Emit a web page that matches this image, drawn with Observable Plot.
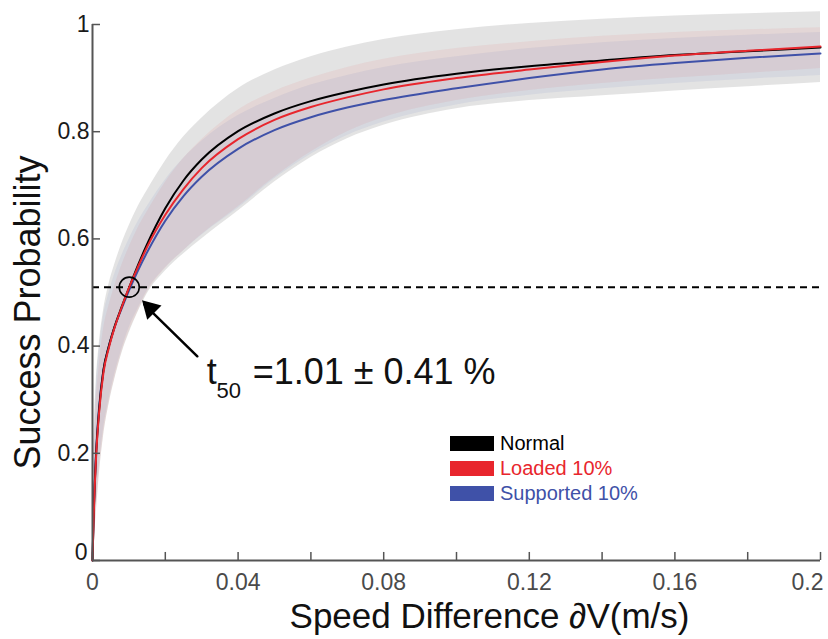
<!DOCTYPE html>
<html>
<head>
<meta charset="utf-8">
<script src="https://cdn.jsdelivr.net/npm/d3@7"></script>
<script src="https://cdn.jsdelivr.net/npm/@observablehq/plot@0.6"></script>
<style>
  html, body { margin: 0; padding: 0; background: #fff; }
  #wrap { position: relative; width: 828px; height: 639px; font-family: "Liberation Sans", Arial, sans-serif; }
  #legend { position: absolute; left: 450px; top: 431px; font-size: 20px; line-height: 25px; }
  #legend .row { display: flex; align-items: center; height: 25px; }
  #legend .sw { width: 44px; height: 15px; margin-right: 6px; }
</style>
</head>
<body>
<div id="wrap">
  <div id="chart"></div>
  <div id="legend"></div>
</div>
<script>
// Speed difference grid (m/s)
const xs = [0, 0.0003, 0.0006, 0.001, 0.0018, 0.003, 0.0045, 0.006, 0.008, 0.0101, 0.0125, 0.015, 0.02, 0.025, 0.03, 0.04, 0.05, 0.06, 0.07, 0.08, 0.1, 0.12, 0.14, 0.16, 0.18, 0.2];

// Mean success probability curves
const normal    = [0, 0.08, 0.14, 0.20, 0.28, 0.355, 0.40, 0.435, 0.473, 0.51, 0.551, 0.59, 0.657, 0.709, 0.748, 0.801, 0.834, 0.857, 0.874, 0.888, 0.908, 0.922, 0.933, 0.943, 0.950, 0.957];
const loaded    = [0, 0.075, 0.135, 0.195, 0.275, 0.35, 0.397, 0.433, 0.472, 0.51, 0.548, 0.585, 0.645, 0.693, 0.732, 0.786, 0.822, 0.846, 0.864, 0.879, 0.90, 0.916, 0.93, 0.942, 0.951, 0.959];
const supported = [0, 0.085, 0.145, 0.205, 0.285, 0.355, 0.40, 0.434, 0.47, 0.505, 0.541, 0.575, 0.634, 0.68, 0.716, 0.768, 0.803, 0.827, 0.845, 0.859, 0.881, 0.90, 0.916, 0.928, 0.938, 0.946];

// Confidence bands
const normalHi    = [0, 0.20, 0.27, 0.33, 0.40, 0.465, 0.515, 0.55, 0.59, 0.625, 0.66, 0.69, 0.745, 0.79, 0.825, 0.88, 0.915, 0.94, 0.958, 0.972, 0.99, 1.002, 1.01, 1.016, 1.02, 1.024];
const normalLo    = [0, 0.025, 0.05, 0.085, 0.155, 0.23, 0.29, 0.335, 0.385, 0.425, 0.463, 0.497, 0.54, 0.572, 0.60, 0.652, 0.706, 0.752, 0.787, 0.812, 0.843, 0.858, 0.867, 0.876, 0.884, 0.892];
const loadedHi    = [0, 0.15, 0.22, 0.29, 0.36, 0.43, 0.475, 0.51, 0.55, 0.585, 0.62, 0.65, 0.705, 0.75, 0.785, 0.84, 0.875, 0.90, 0.92, 0.935, 0.955, 0.968, 0.978, 0.985, 0.99, 0.994];
const loadedLo    = [0, 0.025, 0.052, 0.087, 0.157, 0.232, 0.292, 0.337, 0.387, 0.428, 0.465, 0.50, 0.545, 0.578, 0.608, 0.66, 0.715, 0.762, 0.80, 0.826, 0.858, 0.877, 0.89, 0.90, 0.909, 0.918];
const supportedHi = [0, 0.18, 0.25, 0.32, 0.39, 0.455, 0.498, 0.532, 0.568, 0.60, 0.632, 0.66, 0.71, 0.75, 0.782, 0.83, 0.862, 0.887, 0.905, 0.92, 0.94, 0.955, 0.966, 0.974, 0.98, 0.985];
const supportedLo = [0, 0.04, 0.07, 0.105, 0.175, 0.245, 0.30, 0.345, 0.393, 0.435, 0.47, 0.503, 0.546, 0.578, 0.607, 0.657, 0.712, 0.758, 0.793, 0.818, 0.85, 0.868, 0.88, 0.89, 0.898, 0.905];

// Ticks
const xTicks = [0, 0.02, 0.04, 0.06, 0.08, 0.1, 0.12, 0.14, 0.16, 0.18, 0.2];
const xTickLabels = [0, 0.04, 0.08, 0.12, 0.16, 0.2];
const yTicks = [0, 0.2, 0.4, 0.6, 0.8, 1];

// Annotation values
const t50 = 0.0101;
const threshold = 0.51;

const seriesNames = ["Normal", "Loaded 10%", "Supported 10%"];
const seriesColors = ["#000000", "#e8262d", "#3f51a8"];

const rows = (mean, lo, hi) => xs.map((x, i) => ({x, y: mean[i], lo: lo[i], hi: hi[i]}));
const N = rows(normal, normalLo, normalHi);
const L = rows(loaded, loadedLo, loadedHi);
const S = rows(supported, supportedLo, supportedHi);

const font = "'Liberation Sans', Arial, sans-serif";
const axisColor = "#555555";
const lastLabel = xTickLabels[xTickLabels.length - 1];

const chart = Plot.plot({
  width: 828,
  height: 639,
  marginLeft: 92,
  marginRight: 8,
  marginTop: 24,
  marginBottom: 79,
  style: {fontFamily: font, background: "white", overflow: "visible"},
  x: {domain: [0, 0.2], axis: null},
  y: {domain: [0, 1], axis: null},
  marks: [
    Plot.areaY(N, {x: "x", y1: "lo", y2: "hi", fill: "#c8c8c8", fillOpacity: 0.5, curve: "monotone-x"}),
    Plot.areaY(L, {x: "x", y1: "lo", y2: "hi", fill: "#e03a3a", fillOpacity: 0.08, curve: "monotone-x"}),
    Plot.areaY(S, {x: "x", y1: "lo", y2: "hi", fill: "#3a5ab8", fillOpacity: 0.08, curve: "monotone-x"}),
    Plot.ruleY([threshold], {stroke: "#000", strokeWidth: 2, strokeDasharray: "7,5"}),
    Plot.line(S, {x: "x", y: "y", stroke: seriesColors[2], strokeWidth: 2, curve: "monotone-x"}),
    Plot.line(N, {x: "x", y: "y", stroke: seriesColors[0], strokeWidth: 2, curve: "monotone-x"}),
    Plot.line(L, {x: "x", y: "y", stroke: seriesColors[1], strokeWidth: 2, curve: "monotone-x"}),
    // t50 marker circle
    Plot.dot([{x: t50, y: threshold}], {x: "x", y: "y", r: 10, stroke: "#000", strokeWidth: 1.6, fill: "none"}),
    // arrow pointing to t50
    Plot.arrow([{x1: 0.0288, y1: 0.381, x2: 0.0142, y2: 0.478}], {x1: "x1", y1: "y1", x2: "x2", y2: "y2", stroke: "#000", strokeWidth: 2.5, headLength: 0}),
    Plot.dot([{x: 0.01367, y: 0.485}], {x: "x", y: "y", symbol: "triangle", r: 7.5, fill: "#000", stroke: "none", rotate: -45, dx: 8, dy: 8}),
    // annotation text
    Plot.text([{x: 0.0314, y: 0.330}], {x: "x", y: "y", text: () => "t", fontSize: 36, textAnchor: "start", lineAnchor: "bottom", fill: "#111"}),
    Plot.text([{x: 0.0341, y: 0.304}], {x: "x", y: "y", text: () => "50", fontSize: 22, textAnchor: "start", lineAnchor: "bottom", fill: "#111"}),
    Plot.text([{x: 0.0440, y: 0.330}], {x: "x", y: "y", text: () => "=1.01 ± 0.41 %", fontSize: 36, textAnchor: "start", lineAnchor: "bottom", fill: "#111"}),
    // axis lines
    Plot.ruleY([0], {stroke: axisColor, strokeWidth: 2}),
    Plot.ruleX([0], {stroke: axisColor, strokeWidth: 2}),
    // inward ticks
    Plot.ruleX(xTicks, {x: d => d, y1: 0, y2: 0.015, stroke: axisColor, strokeWidth: 1.5}),
    Plot.ruleY(yTicks, {y: d => d, x1: 0, x2: 0.0022, stroke: axisColor, strokeWidth: 1.5}),
    // tick labels
    Plot.text(xTickLabels.filter(d => d !== lastLabel), {x: d => d, y: 0, text: d => String(d), dy: 22, fontSize: 23, fill: "#4a4a4a", lineAnchor: "middle"}),
    Plot.text([lastLabel], {x: d => d, y: 0, text: d => String(d), dy: 22, dx: 3, fontSize: 23, fill: "#4a4a4a", lineAnchor: "middle", textAnchor: "end"}),
    Plot.text(yTicks.filter(d => d !== 0), {x: 0, y: d => d, text: d => String(d), dx: -3, fontSize: 23, fill: "#1a1a1a", textAnchor: "end", lineAnchor: "middle"}),
    Plot.text([0], {x: 0, y: d => d, text: d => String(d), dx: -5, dy: -8, fontSize: 23, fill: "#1a1a1a", textAnchor: "end", lineAnchor: "middle"}),
    // axis titles
    Plot.text(["Speed Difference \u2202V(m/s)"], {frameAnchor: "bottom", textAnchor: "middle", text: d => d, dx: 33, dy: 67, fontSize: 35, fill: "#111", lineAnchor: "bottom"}),
    Plot.text(["Success Probability"], {frameAnchor: "left", textAnchor: "middle", text: d => d, dx: -64, dy: 20, rotate: -90, fontSize: 36, fill: "#111", lineAnchor: "middle"})
  ]
});
document.getElementById("chart").appendChild(chart);

const legend = document.getElementById("legend");
seriesNames.forEach((name, i) => {
  const row = document.createElement("div");
  row.className = "row";
  const sw = document.createElement("div");
  sw.className = "sw";
  sw.style.background = seriesColors[i];
  const lab = document.createElement("span");
  lab.textContent = name;
  lab.style.color = seriesColors[i];
  row.appendChild(sw);
  row.appendChild(lab);
  legend.appendChild(row);
});
</script>
</body>
</html>
